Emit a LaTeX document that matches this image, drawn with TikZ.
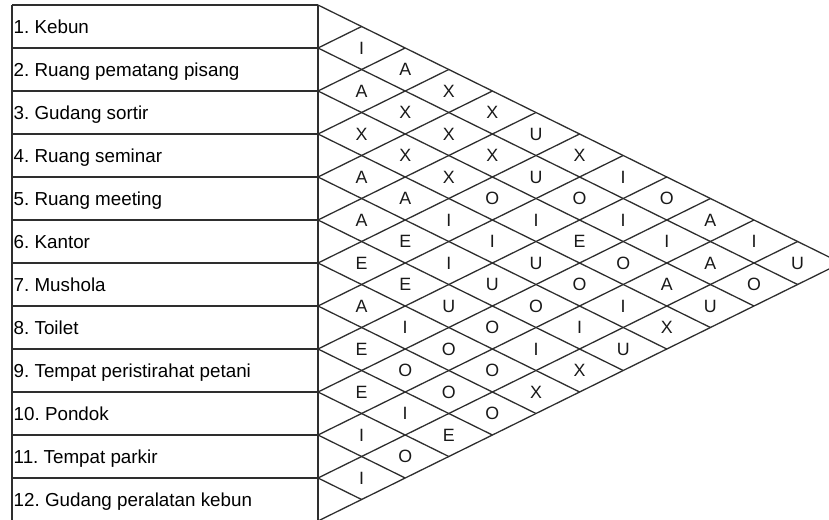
\documentclass[tikz,border=0pt]{standalone}
\usepackage{fontspec}
\setmainfont{Liberation Sans}
\frenchspacing
\begin{document}
\begin{tikzpicture}[x=1pt,y=-1pt,
  grid/.style={line width=1.3pt, draw=black!82, line join=round},
  lab/.style={anchor=base west, inner sep=0pt, font=\fontsize{18.8}{21}\selectfont},
  rel/.style={anchor=base, inner sep=0pt, font=\fontsize{17.8}{20}\selectfont, text=black!90}]
\useasboundingbox (0,0) rectangle (829,519);
\clip (0,0) rectangle (829,519);
\def\XL{12}
\def\XR{318}
\def\YT{5}
\def\RH{43}
\def\HW{43.6}
% left boxes
\foreach \k in {0,...,12}
  \draw[grid] ({\XL},{\YT+\RH*\k}) -- ({\XR},{\YT+\RH*\k});
\draw[grid] ({\XL},{\YT}) -- ({\XL},{\YT+\RH*12});
\draw[grid] ({\XR},{\YT}) -- ({\XR},{\YT+\RH*12});
% diamond grid
\foreach \k in {0,...,12} {
  \coordinate (b\k) at ({\XR},{\YT+\RH*\k});
  \draw[grid] (b\k) -- ++({\HW*(12-\k)},{21.5*(12-\k)});
  \draw[grid] (b\k) -- ++({\HW*\k},{-21.5*\k});
}
% labels
\foreach \t [count=\i] in {1. Kebun, 2. Ruang pematang pisang, 3. Gudang sortir, 4. Ruang seminar, 5. Ruang meeting, 6. Kantor, 7. Mushola, 8. Toilet, 9. Tempat peristirahat petani, 10. Pondok, 11. Tempat parkir, 12. Gudang peralatan kebun}
  \node[lab] (r\i) at ({\XL+1.5},{\YT+\RH*(\i-0.5)+6.6}) {\t};
% relationships
\foreach \i/\j/\L in {
  1/2/I,2/3/A,3/4/X,4/5/A,5/6/A,6/7/E,7/8/A,8/9/E,9/10/E,10/11/I,11/12/I,
  1/3/A,2/4/X,3/5/X,4/6/A,5/7/E,6/8/E,7/9/I,8/10/O,9/11/I,10/12/O,
  1/4/X,2/5/X,3/6/X,4/7/I,5/8/I,6/9/U,7/10/O,8/11/O,9/12/E,
  1/5/X,2/6/X,3/7/O,4/8/I,5/9/U,6/10/O,7/11/O,8/12/O,
  1/6/U,2/7/U,3/8/I,4/9/U,5/10/O,6/11/I,7/12/X,
  1/7/X,2/8/O,3/9/E,4/10/O,5/11/I,6/12/X,
  1/8/I,2/9/I,3/10/O,4/11/I,5/12/U,
  1/9/O,2/10/I,3/11/A,4/12/X,
  1/10/A,2/11/A,3/12/U,
  1/11/I,2/12/O,
  1/12/U}
  \node[rel] (p\i-\j) at ({\XR+\HW*(\j-\i)},{\YT+21.5*(\i+\j-1)+6.2}) {\L};
\end{tikzpicture}
\end{document}
